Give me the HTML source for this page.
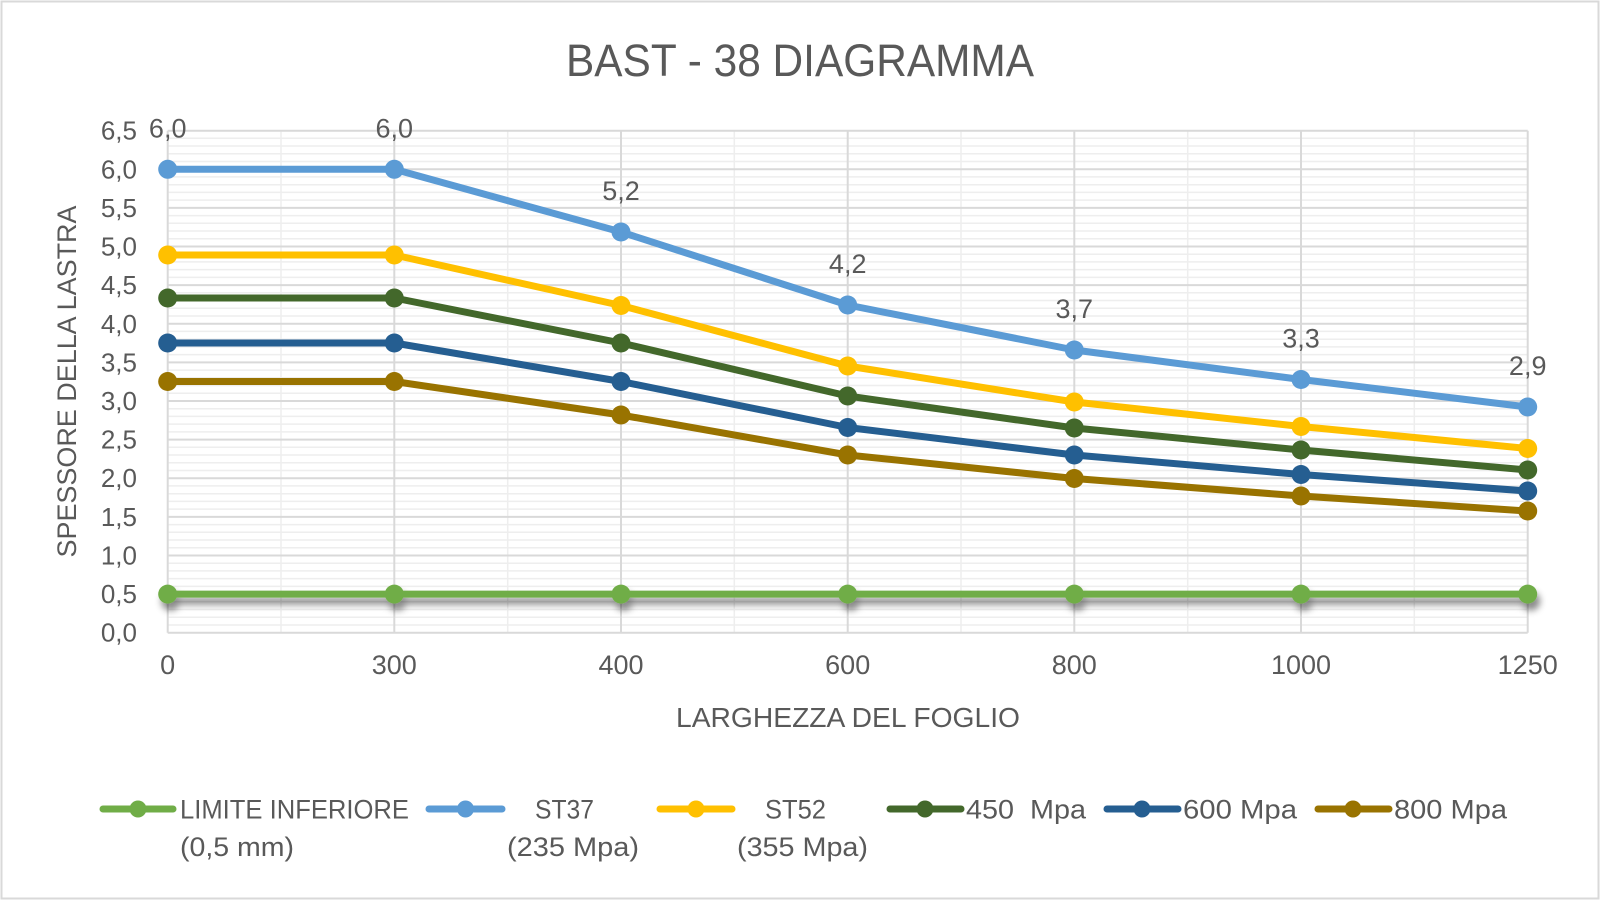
<!DOCTYPE html>
<html><head><meta charset="utf-8"><style>
html,body{margin:0;padding:0;background:#fff;}
svg{display:block;}
text{font-family:"Liberation Sans",sans-serif;fill:#595959;}
</style></head><body>
<svg width="1600" height="900" viewBox="0 0 1600 900" xmlns="http://www.w3.org/2000/svg">
<defs>
<filter id="sh" x="-5%" y="-200%" width="110%" height="500%">
<feDropShadow dx="3" dy="7" stdDeviation="3.5" flood-color="#000" flood-opacity="0.45"/>
</filter>
</defs>
<rect x="0" y="0" width="1600" height="900" fill="#fff"/>
<rect x="1.5" y="1.5" width="1597" height="897" fill="none" stroke="#D9D9D9" stroke-width="2"/>

<text x="800" y="76" font-size="45" text-anchor="middle" textLength="468" lengthAdjust="spacingAndGlyphs">BAST - 38 DIAGRAMMA</text>

<g id="grid">
<g stroke="#EEEEEE" stroke-width="1.5">
<line x1="167.7" x2="1527.7" y1="625" y2="625"/><line x1="167.7" x2="1527.7" y1="617.3" y2="617.3"/><line x1="167.7" x2="1527.7" y1="609.5" y2="609.5"/><line x1="167.7" x2="1527.7" y1="601.8" y2="601.8"/>
<line x1="167.7" x2="1527.7" y1="586.4" y2="586.4"/><line x1="167.7" x2="1527.7" y1="578.6" y2="578.6"/><line x1="167.7" x2="1527.7" y1="570.9" y2="570.9"/><line x1="167.7" x2="1527.7" y1="563.2" y2="563.2"/>
<line x1="167.7" x2="1527.7" y1="547.7" y2="547.7"/><line x1="167.7" x2="1527.7" y1="540.0" y2="540.0"/><line x1="167.7" x2="1527.7" y1="532.3" y2="532.3"/><line x1="167.7" x2="1527.7" y1="524.6" y2="524.6"/>
<line x1="167.7" x2="1527.7" y1="509.1" y2="509.1"/><line x1="167.7" x2="1527.7" y1="501.4" y2="501.4"/><line x1="167.7" x2="1527.7" y1="493.7" y2="493.7"/><line x1="167.7" x2="1527.7" y1="485.9" y2="485.9"/>
<line x1="167.7" x2="1527.7" y1="470.5" y2="470.5"/><line x1="167.7" x2="1527.7" y1="462.8" y2="462.8"/><line x1="167.7" x2="1527.7" y1="455.0" y2="455.0"/><line x1="167.7" x2="1527.7" y1="447.3" y2="447.3"/>
<line x1="167.7" x2="1527.7" y1="431.9" y2="431.9"/><line x1="167.7" x2="1527.7" y1="424.1" y2="424.1"/><line x1="167.7" x2="1527.7" y1="416.4" y2="416.4"/><line x1="167.7" x2="1527.7" y1="408.7" y2="408.7"/>
<line x1="167.7" x2="1527.7" y1="393.2" y2="393.2"/><line x1="167.7" x2="1527.7" y1="385.5" y2="385.5"/><line x1="167.7" x2="1527.7" y1="377.8" y2="377.8"/><line x1="167.7" x2="1527.7" y1="370.1" y2="370.1"/>
<line x1="167.7" x2="1527.7" y1="354.6" y2="354.6"/><line x1="167.7" x2="1527.7" y1="346.9" y2="346.9"/><line x1="167.7" x2="1527.7" y1="339.2" y2="339.2"/><line x1="167.7" x2="1527.7" y1="331.4" y2="331.4"/>
<line x1="167.7" x2="1527.7" y1="316.0" y2="316.0"/><line x1="167.7" x2="1527.7" y1="308.3" y2="308.3"/><line x1="167.7" x2="1527.7" y1="300.5" y2="300.5"/><line x1="167.7" x2="1527.7" y1="292.8" y2="292.8"/>
<line x1="167.7" x2="1527.7" y1="277.4" y2="277.4"/><line x1="167.7" x2="1527.7" y1="269.6" y2="269.6"/><line x1="167.7" x2="1527.7" y1="261.9" y2="261.9"/><line x1="167.7" x2="1527.7" y1="254.2" y2="254.2"/>
<line x1="167.7" x2="1527.7" y1="238.7" y2="238.7"/><line x1="167.7" x2="1527.7" y1="231.0" y2="231.0"/><line x1="167.7" x2="1527.7" y1="223.3" y2="223.3"/><line x1="167.7" x2="1527.7" y1="215.6" y2="215.6"/>
<line x1="167.7" x2="1527.7" y1="200.1" y2="200.1"/><line x1="167.7" x2="1527.7" y1="192.4" y2="192.4"/><line x1="167.7" x2="1527.7" y1="184.7" y2="184.7"/><line x1="167.7" x2="1527.7" y1="176.9" y2="176.9"/>
<line x1="167.7" x2="1527.7" y1="161.5" y2="161.5"/><line x1="167.7" x2="1527.7" y1="153.8" y2="153.8"/><line x1="167.7" x2="1527.7" y1="146.0" y2="146.0"/><line x1="167.7" x2="1527.7" y1="138.3" y2="138.3"/>
<line y1="130.7" y2="632.7" x1="281" x2="281"/><line y1="130.7" y2="632.7" x1="507.7" x2="507.7"/><line y1="130.7" y2="632.7" x1="734.3" x2="734.3"/><line y1="130.7" y2="632.7" x1="961" x2="961"/><line y1="130.7" y2="632.7" x1="1187.7" x2="1187.7"/><line y1="130.7" y2="632.7" x1="1414.3" x2="1414.3"/>
</g>
<g stroke="#D9D9D9" stroke-width="2">
<line x1="167.7" x2="1527.7" y1="632.7" y2="632.7"/><line x1="167.7" x2="1527.7" y1="594.1" y2="594.1"/><line x1="167.7" x2="1527.7" y1="555.5" y2="555.5"/><line x1="167.7" x2="1527.7" y1="516.9" y2="516.9"/>
<line x1="167.7" x2="1527.7" y1="478.2" y2="478.2"/><line x1="167.7" x2="1527.7" y1="439.6" y2="439.6"/><line x1="167.7" x2="1527.7" y1="401.0" y2="401.0"/><line x1="167.7" x2="1527.7" y1="362.4" y2="362.4"/>
<line x1="167.7" x2="1527.7" y1="323.8" y2="323.8"/><line x1="167.7" x2="1527.7" y1="285.1" y2="285.1"/><line x1="167.7" x2="1527.7" y1="246.5" y2="246.5"/><line x1="167.7" x2="1527.7" y1="207.9" y2="207.9"/>
<line x1="167.7" x2="1527.7" y1="169.3" y2="169.3"/><line x1="167.7" x2="1527.7" y1="130.7" y2="130.7"/>
<line y1="130.7" y2="632.7" x1="167.7" x2="167.7"/><line y1="130.7" y2="632.7" x1="394.3" x2="394.3"/><line y1="130.7" y2="632.7" x1="621" x2="621"/><line y1="130.7" y2="632.7" x1="847.7" x2="847.7"/><line y1="130.7" y2="632.7" x1="1074.3" x2="1074.3"/><line y1="130.7" y2="632.7" x1="1301" x2="1301"/><line y1="130.7" y2="632.7" x1="1527.7" x2="1527.7"/>
</g>
</g>

<g font-size="26" text-anchor="end">
<text x="137" y="641.7">0,0</text><text x="137" y="603.1">0,5</text><text x="137" y="564.5">1,0</text><text x="137" y="525.9">1,5</text>
<text x="137" y="487.2">2,0</text><text x="137" y="448.6">2,5</text><text x="137" y="410.0">3,0</text><text x="137" y="371.4">3,5</text>
<text x="137" y="332.8">4,0</text><text x="137" y="294.1">4,5</text><text x="137" y="255.5">5,0</text><text x="137" y="216.9">5,5</text>
<text x="137" y="178.3">6,0</text><text x="137" y="139.7">6,5</text>
</g>
<g font-size="27" text-anchor="middle">
<text x="167.7" y="674">0</text><text x="394.3" y="674">300</text><text x="621" y="674">400</text><text x="847.7" y="674">600</text>
<text x="1074.3" y="674">800</text><text x="1301" y="674">1000</text><text x="1527.7" y="674">1250</text>
</g>

<text x="848" y="727" font-size="28" text-anchor="middle" textLength="344" lengthAdjust="spacingAndGlyphs">LARGHEZZA DEL FOGLIO</text>
<text transform="translate(76,381.5) rotate(-90)" font-size="27" text-anchor="middle" textLength="352" lengthAdjust="spacingAndGlyphs">SPESSORE DELLA LASTRA</text>

<g fill="none" stroke-width="7" stroke-linejoin="round" stroke-linecap="round">
<g filter="url(#sh)">
<polyline stroke="#70AD47" points="167.7,594.1 394.3,594.1 621,594.1 847.7,594.1 1074.3,594.1 1301,594.1 1527.7,594.1"/>
<g fill="#70AD47" stroke="none"><circle cx="167.7" cy="594.1" r="9.5"/><circle cx="394.3" cy="594.1" r="9.5"/><circle cx="621" cy="594.1" r="9.5"/><circle cx="847.7" cy="594.1" r="9.5"/><circle cx="1074.3" cy="594.1" r="9.5"/><circle cx="1301" cy="594.1" r="9.5"/><circle cx="1527.7" cy="594.1" r="9.5"/></g>
</g>
<polyline stroke="#5B9BD5" points="167.7,169.3 394.3,169.3 621,232 847.7,305 1074.3,350 1301,379.5 1527.7,407"/>
<g fill="#5B9BD5" stroke="none"><circle cx="167.7" cy="169.3" r="9.5"/><circle cx="394.3" cy="169.3" r="9.5"/><circle cx="621" cy="232" r="9.5"/><circle cx="847.7" cy="305" r="9.5"/><circle cx="1074.3" cy="350" r="9.5"/><circle cx="1301" cy="379.5" r="9.5"/><circle cx="1527.7" cy="407" r="9.5"/></g>
<polyline stroke="#FFC000" points="167.7,255 394.3,255 621,305.5 847.7,366 1074.3,402 1301,426.5 1527.7,448.5"/>
<g fill="#FFC000" stroke="none"><circle cx="167.7" cy="255" r="9.5"/><circle cx="394.3" cy="255" r="9.5"/><circle cx="621" cy="305.5" r="9.5"/><circle cx="847.7" cy="366" r="9.5"/><circle cx="1074.3" cy="402" r="9.5"/><circle cx="1301" cy="426.5" r="9.5"/><circle cx="1527.7" cy="448.5" r="9.5"/></g>
<polyline stroke="#43682B" points="167.7,298 394.3,298 621,343 847.7,396 1074.3,428 1301,450 1527.7,470"/>
<g fill="#43682B" stroke="none"><circle cx="167.7" cy="298" r="9.5"/><circle cx="394.3" cy="298" r="9.5"/><circle cx="621" cy="343" r="9.5"/><circle cx="847.7" cy="396" r="9.5"/><circle cx="1074.3" cy="428" r="9.5"/><circle cx="1301" cy="450" r="9.5"/><circle cx="1527.7" cy="470" r="9.5"/></g>
<polyline stroke="#255E91" points="167.7,343 394.3,343 621,381.5 847.7,427.5 1074.3,455 1301,474.5 1527.7,491"/>
<g fill="#255E91" stroke="none"><circle cx="167.7" cy="343" r="9.5"/><circle cx="394.3" cy="343" r="9.5"/><circle cx="621" cy="381.5" r="9.5"/><circle cx="847.7" cy="427.5" r="9.5"/><circle cx="1074.3" cy="455" r="9.5"/><circle cx="1301" cy="474.5" r="9.5"/><circle cx="1527.7" cy="491" r="9.5"/></g>
<polyline stroke="#997300" points="167.7,381.5 394.3,381.5 621,415 847.7,455 1074.3,478.5 1301,496 1527.7,511"/>
<g fill="#997300" stroke="none"><circle cx="167.7" cy="381.5" r="9.5"/><circle cx="394.3" cy="381.5" r="9.5"/><circle cx="621" cy="415" r="9.5"/><circle cx="847.7" cy="455" r="9.5"/><circle cx="1074.3" cy="478.5" r="9.5"/><circle cx="1301" cy="496" r="9.5"/><circle cx="1527.7" cy="511" r="9.5"/></g>
</g>

<g font-size="27" text-anchor="middle">
<text x="167.7" y="137.3">6,0</text><text x="394.3" y="137.3">6,0</text><text x="621" y="200">5,2</text><text x="847.7" y="273">4,2</text>
<text x="1074.3" y="318">3,7</text><text x="1301" y="347.5">3,3</text><text x="1527.7" y="375">2,9</text>
</g>

<g stroke-width="7" stroke-linecap="round">
<line x1="103" x2="173" y1="809" y2="809" stroke="#70AD47"/><circle cx="138" cy="809" r="8.5" fill="#70AD47"/>
<line x1="429" x2="502" y1="809" y2="809" stroke="#5B9BD5"/><circle cx="465.5" cy="809" r="8.5" fill="#5B9BD5"/>
<line x1="660" x2="732" y1="809" y2="809" stroke="#FFC000"/><circle cx="696" cy="809" r="8.5" fill="#FFC000"/>
<line x1="890" x2="961" y1="809" y2="809" stroke="#43682B"/><circle cx="925" cy="809" r="8.5" fill="#43682B"/>
<line x1="1107" x2="1178" y1="809" y2="809" stroke="#255E91"/><circle cx="1142" cy="809" r="8.5" fill="#255E91"/>
<line x1="1318" x2="1389" y1="809" y2="809" stroke="#997300"/><circle cx="1353" cy="809" r="8.5" fill="#997300"/>
</g>
<g font-size="27">
<text x="180" y="818.5" textLength="229" lengthAdjust="spacingAndGlyphs">LIMITE INFERIORE</text>
<text x="180" y="856" textLength="114" lengthAdjust="spacingAndGlyphs">(0,5 mm)</text>
<text x="535" y="818.5" textLength="59" lengthAdjust="spacingAndGlyphs">ST37</text>
<text x="507" y="856" textLength="132" lengthAdjust="spacingAndGlyphs">(235 Mpa)</text>
<text x="765" y="818.5" textLength="61" lengthAdjust="spacingAndGlyphs">ST52</text>
<text x="737" y="856" textLength="131" lengthAdjust="spacingAndGlyphs">(355 Mpa)</text>
<text x="966" y="818.5" textLength="120" lengthAdjust="spacingAndGlyphs" xml:space="preserve" style="white-space:pre">450  Mpa</text>
<text x="1183" y="818.5" textLength="114" lengthAdjust="spacingAndGlyphs">600 Mpa</text>
<text x="1394" y="818.5" textLength="113" lengthAdjust="spacingAndGlyphs">800 Mpa</text>
</g>
</svg>
</body></html>
